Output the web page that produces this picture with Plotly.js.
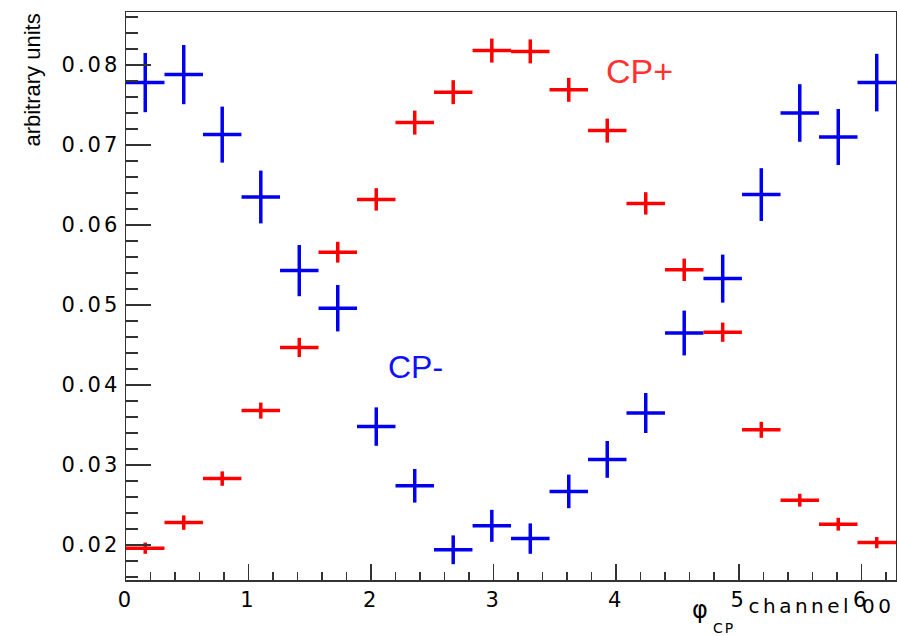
<!DOCTYPE html>
<html>
<head>
<meta charset="utf-8">
<script src="https://cdn.plot.ly/plotly-3.0.1.min.js"></script>
<style>
  html, body { margin: 0; padding: 0; background: #fff; }
  #chart { width: 897px; height: 636px; }
  .xtick text, .ytick text { letter-spacing: 3px; }
  .annotation[data-index="1"] text { letter-spacing: 2px; }
  .annotation[data-index="2"] text { letter-spacing: 3.5px; }
</style>
</head>
<body>
<div id="chart"></div>
<script>
// bin centres of 20 bins over [0, 2π] and their half widths
const binCenters = [0.157, 0.471, 0.785, 1.100, 1.414, 1.728, 2.042, 2.356, 2.670, 2.985,
                    3.299, 3.613, 3.927, 4.241, 4.555, 4.869, 5.184, 5.498, 5.812, 6.126];
const binHalfWidth = [0.157, 0.157, 0.157, 0.157, 0.157, 0.157, 0.157, 0.157, 0.157, 0.157,
                      0.157, 0.157, 0.157, 0.157, 0.157, 0.157, 0.157, 0.157, 0.157, 0.157];

// CP+ (red)
const cpPlusValues = [0.0196, 0.0228, 0.0283, 0.0368, 0.0447, 0.0566, 0.0632, 0.0728, 0.0766, 0.0818,
                      0.0817, 0.0769, 0.0718, 0.0627, 0.0544, 0.0466, 0.0344, 0.0256, 0.0226, 0.0203];
const cpPlusErrors = [0.0007, 0.0009, 0.0009, 0.0010, 0.0012, 0.0013, 0.0014, 0.0015, 0.0015, 0.0015,
                      0.0015, 0.0015, 0.0015, 0.0014, 0.0014, 0.0012, 0.0010, 0.0008, 0.0008, 0.0007];

// CP- (blue)
const cpMinusValues = [0.0778, 0.0788, 0.0713, 0.0635, 0.0543, 0.0496, 0.0348, 0.0274, 0.0194, 0.0224,
                       0.0208, 0.0267, 0.0307, 0.0365, 0.0465, 0.0533, 0.0638, 0.0740, 0.0710, 0.0778];
const cpMinusErrors = [0.0037, 0.0037, 0.0035, 0.0033, 0.0032, 0.0029, 0.0024, 0.0021, 0.0018, 0.0020,
                       0.0019, 0.0021, 0.0023, 0.0025, 0.0028, 0.0030, 0.0033, 0.0036, 0.0035, 0.0036];

const xTickVals = [0, 1, 2, 3, 4, 5, 6];
const xTickText = ['0', '1', '2', '3', '4', '5', '6'];
const yTickVals = [0.02, 0.03, 0.04, 0.05, 0.06, 0.07, 0.08];
const yTickText = ['0.02', '0.03', '0.04', '0.05', '0.06', '0.07', '0.08'];

const RED = '#ff0000';
const BLUE = '#0000ee';

function histTrace(vals, errs, color) {
  return {
    type: 'scatter', mode: 'markers',
    x: binCenters, y: vals,
    marker: { size: 1, color: 'rgba(0,0,0,0)' },
    error_y: { type: 'data', array: errs, visible: true, thickness: 3.5, width: 0, color: color },
    error_x: { type: 'data', array: binHalfWidth, visible: true, thickness: 3.5, width: 0, color: color },
    hoverinfo: 'skip', showlegend: false
  };
}

const data = [
  histTrace(cpMinusValues, cpMinusErrors, BLUE),
  histTrace(cpPlusValues, cpPlusErrors, RED)
];

const axisLine = '#333333';
const tickFont = { family: 'DejaVu Sans', size: 21, color: '#000' };

const layout = {
  width: 897, height: 636,
  margin: { l: 126, r: 1, t: 12, b: 56 },
  paper_bgcolor: '#ffffff', plot_bgcolor: '#ffffff',
  showlegend: false,
  xaxis: {
    range: [0, 6.2832], showgrid: false, zeroline: false,
    showline: true, linecolor: axisLine, linewidth: 1.5, mirror: true,
    tickmode: 'array', tickvals: xTickVals, ticktext: xTickText,
    ticks: 'inside', ticklen: 16, tickwidth: 1.5, tickcolor: axisLine,
    minor: { dtick: 0.2, tick0: 0, ticks: 'inside', ticklen: 8, tickwidth: 1.5, tickcolor: axisLine },
    tickfont: tickFont
  },
  yaxis: {
    range: [0.015625, 0.086625], showgrid: false, zeroline: false,
    showline: true, linecolor: axisLine, linewidth: 1.5, mirror: true,
    tickmode: 'array', tickvals: yTickVals, ticktext: yTickText,
    ticks: 'inside', ticklen: 25, tickwidth: 1.5, tickcolor: axisLine,
    minor: { dtick: 0.002, tick0: 0, ticks: 'inside', ticklen: 12, tickwidth: 1.5, tickcolor: axisLine },
    tickfont: tickFont
  },
  annotations: [
    { text: 'φ', xref: 'paper', yref: 'paper', x: 0.732, y: -0.052, xanchor: 'left', yanchor: 'middle',
      showarrow: false, font: { family: 'DejaVu Sans', size: 24, color: '#000' } },
    { text: 'CP', xref: 'paper', yref: 'paper', x: 0.777, y: -0.0845, xanchor: 'center', yanchor: 'middle',
      showarrow: false, font: { family: 'DejaVu Sans', size: 14, color: '#000' } },
    { text: 'channel 00', xref: 'paper', yref: 'paper', x: 0.9026, y: -0.045, xanchor: 'center', yanchor: 'middle',
      showarrow: false, font: { family: 'DejaVu Sans', size: 20, color: '#000' } },
    { text: 'arbitrary units', xref: 'paper', yref: 'paper', x: -0.122, y: 1.0, xanchor: 'center', yanchor: 'top',
      textangle: -90, showarrow: false, font: { family: 'Liberation Sans', size: 22, color: '#000' } },
    { text: 'CP+', xref: 'x', yref: 'y', x: 3.90, y: 0.0792, xanchor: 'left', yanchor: 'middle',
      showarrow: false, font: { family: 'Liberation Sans', size: 34, color: '#ff3333' } },
    { text: 'CP-', xref: 'x', yref: 'y', x: 2.125, y: 0.0423, xanchor: 'left', yanchor: 'middle',
      showarrow: false, font: { family: 'Liberation Sans', size: 32, color: '#1010ff' } }
  ]
};

Plotly.newPlot('chart', data, layout, { staticPlot: true, displayModeBar: false });
</script>
</body>
</html>
